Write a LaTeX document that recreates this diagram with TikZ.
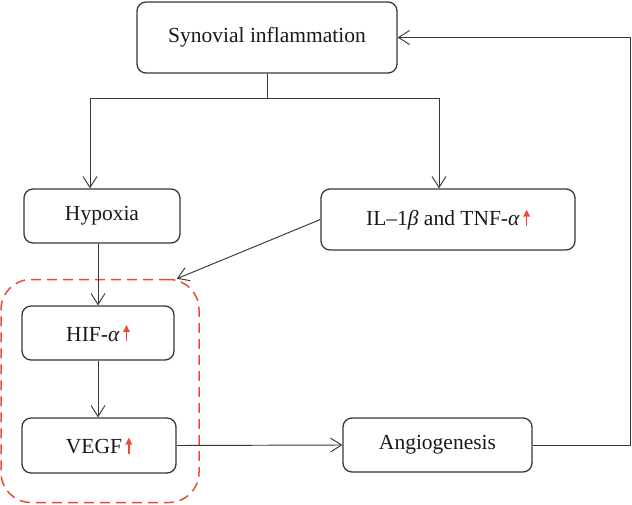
\documentclass[tikz,border=0pt]{standalone}
\usepackage{amsmath,amsfonts}
\usepackage{fontspec}
\setmainfont{Liberation Serif}
\usepackage{tikz}
\usetikzlibrary{arrows.meta}
\definecolor{linegray}{RGB}{55,55,55}
\definecolor{uparrowred}{RGB}{232,78,48}
\newcommand{\upar}{\tikz[baseline=0pt]\draw[uparrowred,line width=1.6pt,-{Triangle[length=7pt,width=6.5pt]}] (0pt,0pt) -- (0pt,16pt);}
\begin{document}
\begin{tikzpicture}[x=1pt,y=-1pt,
  box/.style={draw=linegray,line width=1.3pt,rounded corners=9pt,align=center,
    font=\fontsize{21.5}{25}\selectfont,text=black!90,inner sep=0pt},
  arr/.style={draw=linegray,line width=0.95pt,-{Straight Barb[length=11pt,width=14pt]}}]
\useasboundingbox (0,0) rectangle (632,505);
\node[box,minimum width=260pt,minimum height=71pt] (syn) at (267,37.5) {Synovial inflammation};
\node[box,minimum width=156pt,minimum height=54pt] (hyp) at (102,216) {Hypoxia};
\node[box,minimum width=254pt,minimum height=61pt] (il) at (448,219.5) {IL–1\textit{β} and TNF-\textit{α}\,\upar};
\node[box,minimum width=152pt,minimum height=54pt] (hif) at (98,333) {HIF-\textit{α}\,\upar};
\node[box,minimum width=154pt,minimum height=55pt] (vegf) at (99,445.5) {VEGF\,\upar};
\node[box,minimum width=189pt,minimum height=54pt] (ang) at (437.5,445) {Angiogenesis};
\node[draw=uparrowred,line width=1.5pt,dash pattern=on 10pt off 6pt,rounded corners=30pt,
  minimum width=198pt,minimum height=223pt,inner sep=0pt] (group) at (100,391) {};
\coordinate (split) at (267,98);
\draw[linegray,line width=0.95pt] (syn.south) -- (split);
\draw[arr] (split) -| ([xshift=-12pt]hyp.north);
\draw[arr] (split) -| ([xshift=-9pt]il.north);
\draw[arr] (il.west) -- ([xshift=-23pt]group.north east);
\draw[arr] (hyp.south -| hif.north) -- (hif.north);
\draw[arr] (hif.south) -- (vegf.north -| hif.south);
\draw[arr] (vegf.east) -- (ang.west);
\draw[arr] (ang.east) -- ++(98,0) |- (syn.east);
\end{tikzpicture}
\end{document}
